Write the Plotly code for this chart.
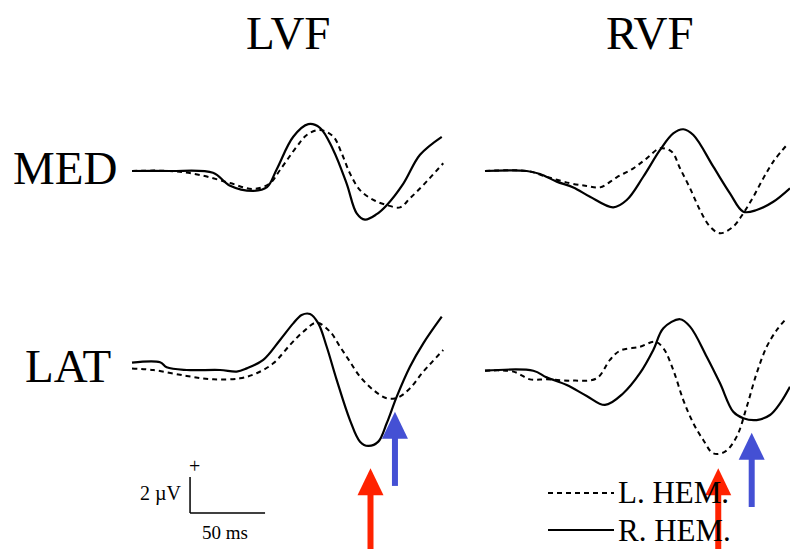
import plotly.graph_objects as go

# ERP waveforms, time in ms from trace start, amplitude in microvolts (positive up)
# MED row, left visual field
med_lvf_t_r = [0, 25, 54, 65, 81, 90, 96.5, 107.5, 117.5, 125.3, 134, 143.1, 149.8, 155.3, 163.1, 169.8, 180.9, 192, 206.5]
med_lvf_r = [0.0, 0.0, -0.1, -0.8, -1.1, -0.9, 0.1, 1.9, 2.6, 2.4, 1.2, -0.7, -2.35, -2.7, -2.4, -1.9, -0.7, 0.9, 1.9]
med_lvf_t_l = [0, 25, 45.3, 65.3, 80.7, 92, 98.7, 109.8, 116.5, 125.3, 134.2, 139.8, 145.3, 152, 160.9, 169.8, 178.7, 185.3, 194.2, 207.5]
med_lvf_l = [0.0, 0.0, -0.22, -0.67, -1.0, -0.68, 0.06, 1.35, 2.0, 2.28, 1.91, 0.98, -0.13, -1.06, -1.61, -1.89, -2.02, -1.52, -0.78, 0.43]

# MED row, right visual field
med_rvf_t_r = [0, 27.8, 36.7, 47.8, 58.9, 70, 85.5, 94.5, 105.5, 116.7, 125.5, 132.2, 138.9, 152.2, 163.3, 172.2, 181.1, 192.2, 203.3]
med_rvf_r = [0.0, 0.0, -0.17, -0.59, -0.91, -1.43, -2.02, -1.61, -0.32, 1.17, 2.09, 2.32, 2.0, 0.24, -1.24, -2.26, -2.17, -1.71, -0.96]
med_rvf_t_l = [0, 27.8, 41.1, 56.7, 67.8, 76.7, 87.8, 98.9, 107.8, 116.7, 124.5, 130, 136.7, 143.3, 150, 156.7, 165.5, 172.2, 178.9, 185.5, 192.2, 202.2]
med_rvf_l = [0.0, 0.0, -0.32, -0.68, -0.83, -0.91, -0.35, 0.15, 0.7, 1.26, 1.07, 0.15, -0.96, -2.17, -3.09, -3.46, -3.09, -2.35, -1.43, -0.41, 0.52, 1.54]

# LAT row, left visual field
lat_lvf_t_r = [0, 18.7, 23.1, 36.5, 58.7, 69.8, 76.5, 87.5, 98.7, 107.5, 113.1, 118.7, 124.2, 129.8, 136.5, 145.3, 152, 157.5, 164.2, 169.8, 176.5, 185.3, 194.2, 206.5]
lat_lvf_r = [0.41, 0.43, 0.15, 0.0, 0.0, -0.09, 0.09, 0.56, 1.67, 2.59, 3.06, 3.11, 2.59, 1.29, -0.56, -2.78, -3.98, -4.22, -3.98, -2.96, -1.48, 0.18, 1.48, 2.96]
lat_lvf_t_l = [0, 14.2, 36.5, 54.2, 72, 83.1, 94.2, 105.3, 114.2, 123.1, 132, 138.7, 145.3, 152, 160.9, 169.8, 177.5, 185.3, 194.2, 207.5]
lat_lvf_l = [0.09, 0.0, -0.33, -0.52, -0.46, -0.18, 0.37, 1.39, 2.13, 2.63, 2.13, 1.29, 0.46, -0.37, -1.11, -1.57, -1.52, -1.02, -0.09, 1.11]

# LAT row, right visual field
lat_rvf_t_r = [0, 32.2, 41.1, 54.5, 67.8, 80, 92.2, 103.3, 112.2, 118.9, 130, 136.7, 147.8, 156.7, 165.5, 172.2, 181.1, 190, 196.7, 203.3]
lat_rvf_r = [-0.04, -0.04, -0.41, -0.83, -1.44, -1.94, -1.29, -0.18, 1.11, 2.32, 2.82, 2.41, 0.74, -0.74, -2.32, -2.68, -2.78, -2.5, -1.85, -0.93]
lat_rvf_t_l = [0, 18.9, 30, 41.1, 58.9, 74.5, 83.3, 90, 103.3, 113.3, 118.9, 125.5, 132.2, 138.9, 145.5, 152.2, 160, 167.8, 174.5, 181.1, 187.8, 194.5, 200]
lat_rvf_l = [-0.04, -0.09, -0.52, -0.52, -0.59, -0.46, 0.56, 1.07, 1.29, 1.57, 1.21, 0.0, -1.67, -2.96, -3.89, -4.63, -4.54, -3.7, -2.04, -0.18, 1.29, 2.22, 2.78]

# arrows: (column, time ms, tip uV, tail uV, colour)
arrows = [
    ("left", 159, -5.46, -10.4, "#FF2200"),
    ("left", 175.3, -2.32, -6.44, "#4450D4"),
    ("right", 155.5, -5.46, -10.4, "#FF2200"),
    ("right", 177.8, -3.48, -7.61, "#4450D4"),
]

W, H = 790, 549
PX_MS = 1.5     # pixels per ms
PX_UV = 18.0    # pixels per microvolt
X0 = {"left": 132, "right": 485}     # trace start (px)
BASE = {"med": 171, "lat": 370}      # baseline (px)
XAX = {"left": "x", "right": "x2"}
YAX = {"med": "y", "lat": "y2"}

SERIF = "Liberation Serif, Times New Roman, serif"
DASH = "5px,4px"

fig = go.Figure()

def add_pair(col, row, t_r, v_r, t_l, v_l):
    fig.add_trace(go.Scatter(x=t_l, y=v_l, mode="lines", line_shape="spline",
                             line=dict(color="black", width=2, dash=DASH),
                             xaxis=XAX[col], yaxis=YAX[row], showlegend=False))
    fig.add_trace(go.Scatter(x=t_r, y=v_r, mode="lines", line_shape="spline",
                             line=dict(color="black", width=2.2),
                             xaxis=XAX[col], yaxis=YAX[row], showlegend=False))

add_pair("left", "med", med_lvf_t_r, med_lvf_r, med_lvf_t_l, med_lvf_l)
add_pair("right", "med", med_rvf_t_r, med_rvf_r, med_rvf_t_l, med_rvf_l)
add_pair("left", "lat", lat_lvf_t_r, lat_lvf_r, lat_lvf_t_l, lat_lvf_l)
add_pair("right", "lat", lat_rvf_t_r, lat_rvf_r, lat_rvf_t_l, lat_rvf_l)

# arrows
head_len = 27 / PX_UV
head_hw = 13 / PX_MS
for col, t, tip, tail, color in arrows:
    xr, yr = XAX[col], YAX["lat"]
    fig.add_shape(type="line", xref=xr, yref=yr, x0=t, x1=t, y0=tail, y1=tip - head_len + 0.1,
                  line=dict(color=color, width=6))
    fig.add_shape(type="path", xref=xr, yref=yr,
                  path=f"M {t - head_hw} {tip - head_len} L {t} {tip} L {t + head_hw} {tip - head_len} Z",
                  fillcolor=color, line=dict(color=color, width=0))

# calibration bar: 50 ms x 2 uV
sb_t, sb_v = 38.7, -7.94
fig.add_shape(type="line", xref="x", yref="y2", x0=sb_t, x1=sb_t, y0=sb_v, y1=sb_v + 2,
              line=dict(color="black", width=1.5))
fig.add_shape(type="line", xref="x", yref="y2", x0=sb_t, x1=sb_t + 50, y0=sb_v, y1=sb_v,
              line=dict(color="black", width=1.5))
fig.add_annotation(x=sb_t + 3, y=sb_v + 2.6, xref="x", yref="y2", text="+", showarrow=False,
                   font=dict(family=SERIF, size=20, color="black"))
fig.add_annotation(x=sb_t - 4, y=sb_v + 1.1, xref="x", yref="y2", text="2 µV", showarrow=False,
                   xanchor="right", yanchor="middle", font=dict(family=SERIF, size=20, color="black"))
fig.add_annotation(x=sb_t + 23, y=sb_v - 1.1, xref="x", yref="y2", text="50 ms", showarrow=False,
                   xanchor="center", yanchor="middle", font=dict(family=SERIF, size=19, color="black"))

# legend drawn by hand, as in the original
for dy, dash, label in [(-6.83, DASH, "L. HEM."), (-8.89, "solid", "R. HEM.")]:
    fig.add_shape(type="line", xref="x2", yref="y2", x0=42, x1=86, y0=dy, y1=dy,
                  line=dict(color="black", width=2, dash=dash))
    fig.add_annotation(x=87, y=dy, xref="x2", yref="y2", text=label, showarrow=False,
                       xanchor="left", yanchor="middle", font=dict(family=SERIF, size=31, color="black"))

# column and row titles
for text, px, py in [("LVF", 288, 33), ("RVF", 650, 33), ("MED", 65, 168), ("LAT", 68, 366)]:
    fig.add_annotation(x=px / W, y=1 - py / H, xref="paper", yref="paper", text=text,
                       xanchor="center", yanchor="middle",
                       showarrow=False, font=dict(family=SERIF, size=47, color="black"))

def xrange(col):
    return [-X0[col] / PX_MS, (W - X0[col]) / PX_MS]

def yrange(row):
    return [(BASE[row] - H) / PX_UV, BASE[row] / PX_UV]

hidden = dict(showgrid=False, zeroline=False, visible=False, domain=[0, 1])
fig.update_layout(
    width=W, height=H,
    margin=dict(l=0, r=0, t=0, b=0),
    plot_bgcolor="white", paper_bgcolor="white",
    xaxis=dict(range=xrange("left"), **hidden),
    xaxis2=dict(range=xrange("right"), overlaying="x", **hidden),
    yaxis=dict(range=yrange("med"), **hidden),
    yaxis2=dict(range=yrange("lat"), overlaying="y", **hidden),
)

fig.write_html("out.html", config={"displayModeBar": False},
               post_script="document.body.style.margin='0';document.body.style.overflow='hidden';")
